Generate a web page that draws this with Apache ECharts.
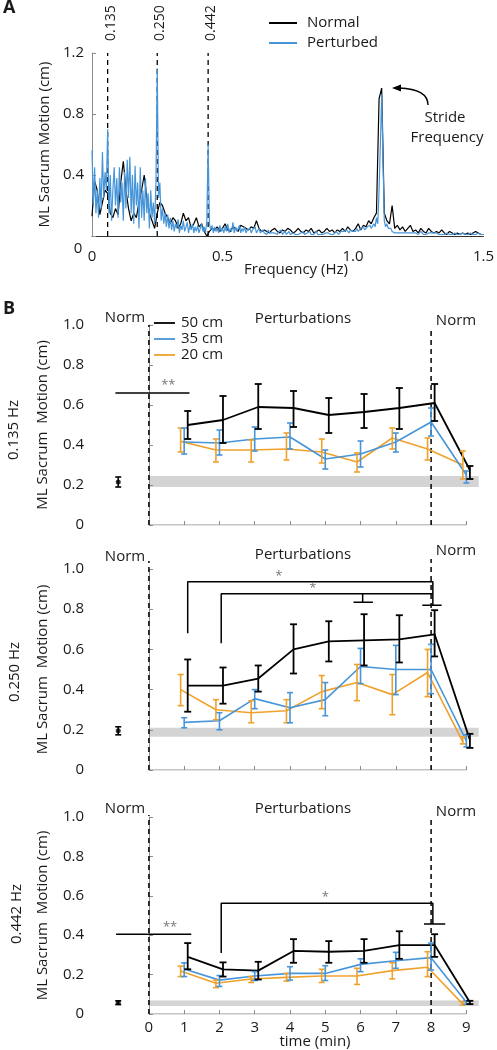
<!DOCTYPE html>
<html><head><meta charset="utf-8">
<script src="https://cdn.jsdelivr.net/npm/echarts@6/dist/echarts.min.js"></script>
<style>html,body{margin:0;padding:0;background:#fff}#c{width:497px;height:1050px}</style>
</head><body><div id="c"></div><script>
// ---------- Panel A data ----------
const normalStepA = 0.01;     // Hz between Normal samples
const perturbedStepA = 0.005; // Hz between Perturbed samples
const normalA = [
0.13,0.36,0.30,0.14,0.22,0.30,0.28,0.15,0.12,0.18,
0.14,0.35,0.49,0.30,0.18,0.10,0.15,0.12,0.22,0.30,
0.40,0.25,0.15,0.10,0.05,0.15,0.22,0.20,0.15,0.12,
0.08,0.12,0.10,0.05,0.08,0.15,0.10,0.12,0.05,0.08,
0.12,0.06,0.08,0.03,0.00,0.03,0.05,0.04,0.06,0.03,
0.05,0.08,0.04,0.03,0.06,0.05,0.03,0.07,0.06,0.05,
0.04,0.06,0.05,0.10,0.05,0.03,0.04,0.03,0.02,0.04,
0.05,0.03,0.02,0.04,0.03,0.05,0.04,0.02,0.03,0.05,
0.03,0.02,0.04,0.03,0.05,0.02,0.03,0.04,0.02,0.03,
0.05,0.03,0.04,0.02,0.04,0.03,0.05,0.03,0.06,0.04,
0.03,0.05,0.08,0.04,0.07,0.06,0.10,0.08,0.12,0.15,
0.90,0.97,0.15,0.10,0.08,0.20,0.05,0.07,0.04,0.06,
0.03,0.05,0.07,0.03,0.04,0.02,0.05,0.03,0.02,0.05,
0.03,0.02,0.03,0.02,0.04,0.02,0.01,0.03,0.02,0.01,
0.02,0.01,0.02,0.01,0.02,0.01,0.02,0.03,0.02,0.01,0.01];
const perturbedA = [
0.56,0.20,0.45,0.15,0.30,0.12,0.38,0.18,0.55,0.25,0.42,0.30,0.70,0.15,0.40,0.10,0.30,0.45,0.20,0.38,
0.12,0.45,0.22,0.35,0.10,0.42,0.18,0.50,0.25,0.52,0.15,0.40,0.08,0.46,0.20,0.35,0.05,0.45,0.12,0.30,
0.10,0.38,0.15,0.28,0.05,0.30,0.12,0.22,0.08,0.35,1.10,0.25,0.35,0.10,0.18,0.08,0.15,0.06,0.14,0.05,
0.12,0.04,0.10,0.03,0.08,0.05,0.11,0.02,0.07,0.04,0.10,0.03,0.06,0.09,0.02,0.07,0.04,0.08,0.02,0.06,
0.03,0.07,0.02,0.05,0.08,0.03,0.06,0.02,0.10,0.60,0.08,0.04,0.07,0.02,0.06,0.03,0.05,0.02,0.07,0.03,
0.05,0.02,0.06,0.03,0.08,0.02,0.05,0.03,0.09,0.02,0.06,0.03,0.04,0.07,0.02,0.05,0.03,0.06,0.02,0.04,
0.03,0.05,0.02,0.04,0.03,0.06,0.02,0.03,0.05,0.02,0.03,0.04,0.02,0.03,0.01,0.04,0.02,0.03,0.02,0.03,
0.02,0.03,0.01,0.03,0.02,0.04,0.01,0.02,0.03,0.01,0.02,0.03,0.01,0.02,0.02,0.03,0.01,0.02,0.01,0.02,
0.02,0.01,0.03,0.01,0.02,0.02,0.01,0.03,0.01,0.02,0.01,0.02,0.03,0.01,0.02,0.01,0.02,0.01,0.02,0.02,
0.01,0.02,0.03,0.01,0.02,0.01,0.02,0.03,0.02,0.01,0.02,0.03,0.02,0.03,0.02,0.04,0.03,0.02,0.04,0.03,
0.03,0.04,0.03,0.05,0.03,0.04,0.05,0.04,0.06,0.04,0.05,0.06,0.05,0.07,0.05,0.06,0.08,0.06,0.12,0.08,
0.30,0.60,0.93,0.50,0.10,0.06,0.08,0.05,0.04,0.05,0.03,0.04,0.02,0.03,0.02,0.03,0.02,0.03,0.02,0.02,
0.02,0.03,0.02,0.01,0.02,0.03,0.02,0.01,0.02,0.02,0.01,0.02,0.03,0.02,0.01,0.02,0.01,0.02,0.02,0.01,
0.02,0.01,0.02,0.01,0.02,0.01,0.01,0.02,0.01,0.02,0.01,0.01,0.02,0.01,0.01,0.02,0.01,0.01,0.02,0.01,
0.01,0.02,0.01,0.01,0.02,0.01,0.01,0.02,0.01,0.01,0.02,0.01,0.01,0.02,0.01,0.01,0.02,0.01,0.01,0.02,0.01];
const dashFreqA = [0.06, 0.25, 0.445];
const dashLabelsA = ['0.135', '0.250', '0.442'];
const legendA = ['Normal', 'Perturbed'];

// ---------- Panel B data ----------
const times = [1,2,3,4,5,6,7,8,9];
const xTicksB = [0,1,2,3,4,5,6,7,8,9];
const legendB = ['50 cm','35 cm','20 cm'];
const hzLabels = ['0.135 Hz','0.250 Hz','0.442 Hz'];
const normTime = -0.87;

// 0.135 Hz
const b1_50 = [0.50,0.525,0.59,0.585,0.55,0.565,0.585,0.61,0.275];
const b1_50lo = [0.43,0.41,0.48,0.49,0.46,0.485,0.48,0.52,0.23];
const b1_50hi = [0.57,0.645,0.705,0.67,0.635,0.655,0.685,0.705,0.295];
const b1_35 = [0.415,0.41,0.43,0.44,0.33,0.355,0.415,0.515,0.25];
const b1_35lo = [0.355,0.35,0.37,0.38,0.28,0.29,0.365,0.445,0.21];
const b1_35hi = [0.485,0.475,0.49,0.51,0.375,0.42,0.46,0.585,0.27];
const b1_20 = [0.418,0.375,0.375,0.38,0.365,0.315,0.435,0.38,0.30];
const b1_20lo = [0.365,0.315,0.315,0.325,0.31,0.265,0.38,0.325,0.23];
const b1_20hi = [0.485,0.43,0.425,0.46,0.43,0.36,0.485,0.435,0.37];
const b1Norm = [0.215,0.19,0.24];
const b1Band = [0.19,0.245];

// 0.250 Hz
const b2_50 = [0.42,0.42,0.455,0.60,0.64,0.645,0.65,0.675,0.15];
const b2_50lo = [0.29,0.33,0.39,0.48,0.54,0.52,0.535,0.565,0.11];
const b2_50hi = [0.55,0.51,0.52,0.725,0.74,0.775,0.77,0.795,0.18];
const b2_35 = [0.237,0.245,0.355,0.31,0.35,0.515,0.50,0.50,0.145];
const b2_35lo = [0.21,0.20,0.305,0.235,0.27,0.43,0.375,0.38,0.115];
const b2_35hi = [0.26,0.285,0.40,0.385,0.435,0.605,0.62,0.625,0.175];
const b2_20 = [0.40,0.30,0.285,0.295,0.39,0.435,0.375,0.485,0.14];
const b2_20lo = [0.32,0.25,0.235,0.235,0.305,0.345,0.275,0.365,0.13];
const b2_20hi = [0.475,0.35,0.345,0.35,0.47,0.525,0.475,0.60,0.165];
const b2Norm = [0.195,0.175,0.215];
const b2Band = [0.165,0.21];

// 0.442 Hz
const b3_50 = [0.29,0.227,0.22,0.32,0.316,0.32,0.35,0.35,0.06];
const b3_50lo = [0.227,0.19,0.175,0.26,0.26,0.26,0.28,0.29,0.05];
const b3_50hi = [0.36,0.262,0.265,0.38,0.37,0.38,0.42,0.405,0.067];
const b3_35 = [0.228,0.172,0.193,0.206,0.206,0.252,0.27,0.286,0.06];
const b3_35lo = [0.19,0.14,0.17,0.172,0.17,0.215,0.232,0.223,0.05];
const b3_35hi = [0.26,0.195,0.215,0.24,0.245,0.28,0.313,0.36,0.067];
const b3_20 = [0.218,0.156,0.178,0.186,0.193,0.193,0.22,0.237,0.05];
const b3_20lo = [0.19,0.134,0.16,0.167,0.16,0.15,0.178,0.19,0.045];
const b3_20hi = [0.243,0.172,0.19,0.206,0.227,0.232,0.26,0.316,0.063];
const b3Norm = [0.057,0.048,0.067];
const b3Band = [0.04,0.068];

// significance brackets (time, value)
const b1Sig = [[[-0.95,0.66],[1.15,0.66]]];
const b2Sig = [[[1.1,0.68],[1.1,0.937],[8.05,0.937],[8.05,0.82]],[[7.75,0.82],[8.3,0.82]],
               [[2.05,0.63],[2.05,0.877],[8.05,0.877]],[[6.06,0.877],[6.06,0.835]],[[5.8,0.835],[6.35,0.835]]];
const b3Sig = [[[-0.93,0.405],[1.2,0.405]],[[2.05,0.31],[2.05,0.562],[8.05,0.562],[8.05,0.457]],[[7.8,0.457],[8.4,0.457]]];
const b1Stars = [['**',0.55,0.70]];
const b2Stars = [['*',3.68,0.965],['*',4.65,0.905]];
const b3Stars = [['**',0.6,0.44],['*',5.0,0.594]];

// ---------- styling ----------
const FONT = 'Open Sans';
const TXT = '#1a1a1a';
const BLUE = '#4795d9';
const ORANGE = '#f0a12c';
const BLACK = '#000';
const AXISGRAY = '#8a8a8a';
const offsets = {black:0.1, blue:0, orange:-0.1};

const chart = echarts.init(document.getElementById('c'), null, {renderer:'canvas'});

const grids = [
  {left:92, top:53, width:398, height:183},
  {left:96, top:325, width:388, height:200},
  {left:96, top:569, width:388, height:201},
  {left:96, top:817, width:388, height:197}
];

const xAxes = [{
  gridIndex:0, type:'value', min:0, max:1.5, interval:0.5,
  axisLine:{show:true, lineStyle:{color:'#333', width:1}}, axisTick:{show:false}, splitLine:{show:false},
  axisLabel:{margin:13, fontFamily:FONT, fontSize:15, color:TXT, formatter:v=> v===0?'0':v.toFixed(1)}
}];
const yAxes = [{
  gridIndex:0, type:'value', min:0, max:1.2, interval:0.4,
  axisLine:{show:true, lineStyle:{color:AXISGRAY, width:1}}, axisTick:{show:true, inside:true, length:4, lineStyle:{color:AXISGRAY}},
  splitLine:{show:false},
  axisLabel:{margin:8, fontFamily:FONT, fontSize:15, color:TXT, formatter:v=> v===0?'':v.toFixed(1)},
  name:'ML Sacrum Motion (cm)', nameLocation:'middle', nameGap:37, nameRotate:90,
  nameTextStyle:{fontFamily:FONT, fontSize:15, color:TXT}
}];
for (let i=1;i<=3;i++){
  xAxes.push({
    gridIndex:i, type:'value', min:-1.5, max:9.5,
    axisLine:{show:false}, splitLine:{show:false},
    axisTick:{show:true, inside:true, length:4, customValues:xTicksB, lineStyle:{color:AXISGRAY}},
    axisLabel:{show:i===3, customValues:xTicksB, margin:6, fontFamily:FONT, fontSize:15, color:TXT}
  });
  yAxes.push({
    gridIndex:i, type:'value', min:0, max:1, interval:0.2,
    axisLine:{show:true, lineStyle:{color:AXISGRAY, width:1}},
    axisTick:{show:true, inside:true, length:4, lineStyle:{color:AXISGRAY}},
    splitLine:{show:false},
    axisLabel:{margin:12, fontFamily:FONT, fontSize:15, color:TXT, formatter:v=> v===0?'0':v.toFixed(1)},
    name:'ML Sacrum  Motion (cm)', nameLocation:'middle', nameGap:46, nameRotate:90,
    nameTextStyle:{fontFamily:FONT, fontSize:15, color:TXT}
  });
}

const series = [];
// Panel A
dashFreqA.forEach(f => series.push({type:'line', xAxisIndex:0, yAxisIndex:0, data:[[f,0],[f,1.2]],
  symbol:'none', silent:true, clip:false, lineStyle:{color:BLACK, width:1.3, type:[5,4]}, z:1}));
series.push({name:legendA[0], type:'line', xAxisIndex:0, yAxisIndex:0,
  data: normalA.map((v,i)=>[+(i*normalStepA).toFixed(3), v]), symbol:'none', silent:true,
  lineStyle:{color:BLACK, width:1.2}, z:2});
series.push({name:legendA[1], type:'line', xAxisIndex:0, yAxisIndex:0,
  data: perturbedA.map((v,i)=>[+(i*perturbedStepA).toFixed(3), v]), symbol:'none', silent:true,
  lineStyle:{color:BLUE, width:1.2}, z:3});

function errRender(capHalf, color, lw){
  return function(params, api){
    const x = api.value(0), lo = api.value(2), hi = api.value(3);
    const a = api.coord([x, lo]), b = api.coord([x, hi]);
    const st = {stroke:color, lineWidth:lw};
    return {type:'group', children:[
      {type:'line', shape:{x1:a[0],y1:a[1],x2:b[0],y2:b[1]}, style:st},
      {type:'line', shape:{x1:a[0]-capHalf,y1:a[1],x2:a[0]+capHalf,y2:a[1]}, style:st},
      {type:'line', shape:{x1:b[0]-capHalf,y1:b[1],x2:b[0]+capHalf,y2:b[1]}, style:st}
    ]};
  };
}
function bandRender(params, api){
  const p0 = api.coord([api.value(0), api.value(3)]);
  const p1 = api.coord([api.value(1), api.value(2)]);
  return {type:'rect', shape:{x:p0[0], y:p0[1], width:p1[0]-p0[0], height:p1[1]-p0[1]}, style:{fill:'#d4d4d4'}};
}

const panels = [
  {g:1, s50:[b1_50,b1_50lo,b1_50hi], s35:[b1_35,b1_35lo,b1_35hi], s20:[b1_20,b1_20lo,b1_20hi], norm:b1Norm, band:b1Band, sig:b1Sig, stars:b1Stars, dashTop:[1.0,0.985]},
  {g:2, s50:[b2_50,b2_50lo,b2_50hi], s35:[b2_35,b2_35lo,b2_35hi], s20:[b2_20,b2_20lo,b2_20hi], norm:b2Norm, band:b2Band, sig:b2Sig, stars:b2Stars, dashTop:[1.04,1.05]},
  {g:3, s50:[b3_50,b3_50lo,b3_50hi], s35:[b3_35,b3_35lo,b3_35hi], s20:[b3_20,b3_20lo,b3_20hi], norm:b3Norm, band:b3Band, sig:b3Sig, stars:b3Stars, dashTop:[1.01,1.0]}
];

panels.forEach(p => {
  const ax = {xAxisIndex:p.g, yAxisIndex:p.g};
  series.push(Object.assign({type:'custom', renderItem:bandRender, silent:true, clip:false,
    data:[[0, 9.35, p.band[0], p.band[1]]], encode:{x:[0,1], y:[2,3]}, z:0}, ax));
  series.push(Object.assign({type:'line', data:[[xTicksB[0],0],[xTicksB[xTicksB.length-1],0]], symbol:'none', silent:true,
    lineStyle:{color:AXISGRAY, width:1}, z:1}, ax));
  [[0,p.dashTop[0]],[8,p.dashTop[1]]].forEach(d => series.push(Object.assign({type:'line', data:[[d[0],0],[d[0],d[1]]],
    symbol:'none', silent:true, clip:false, lineStyle:{color:BLACK, width:1.5, type:[5,4]}, z:2}, ax)));
  const defs = [[p.s20, ORANGE, offsets.orange, 3, 1.6], [p.s35, BLUE, offsets.blue, 3, 1.6], [p.s50, BLACK, offsets.black, 3.5, 1.8]];
  defs.forEach(([s, color, off, cap, lw]) => {
    series.push(Object.assign({type:'line', data: times.map((t,i)=>[t+off, s[0][i]]), symbol:'none', silent:true,
      clip:false, lineStyle:{color, width:lw}, z:4}, ax));
    series.push(Object.assign({type:'custom', renderItem:errRender(cap, color, lw), silent:true, clip:false,
      data: times.map((t,i)=>[t+off, s[0][i], s[1][i], s[2][i]]), encode:{x:0, y:[1,2,3]}, z:5}, ax));
  });
  series.push(Object.assign({type:'custom', renderItem:errRender(3, BLACK, 1.6), silent:true, clip:false,
    data:[[normTime, p.norm[0], p.norm[1], p.norm[2]]], encode:{x:0, y:[1,2,3]}, z:5}, ax));
  series.push(Object.assign({type:'scatter', data:[[normTime, p.norm[0]]], symbol:'circle', symbolSize:5,
    itemStyle:{color:BLACK}, silent:true, z:6}, ax));
  p.sig.forEach(line => series.push(Object.assign({type:'line', data:line, symbol:'none', silent:true, clip:false,
    lineStyle:{color:BLACK, width:1.5}, z:3}, ax)));
});

chart.setOption({
  animation:false,
  backgroundColor:'#fff',
  textStyle:{fontFamily:FONT},
  grid:grids, xAxis:xAxes, yAxis:yAxes, series
});

// ---------- annotations ----------
const T = (text, x, y, opt={}) => ({type:'text', x, y, rotation:opt.rot||0, silent:true, z:50,
  style:{text, fill:opt.fill||TXT, font:(opt.bold?'bold ':'')+(opt.size||15)+'px "'+FONT+'"',
  textAlign:opt.align||'center', textVerticalAlign:opt.valign||'middle'}});
const L = (x1,y1,x2,y2,color,w) => ({type:'line', silent:true, z:50, shape:{x1,y1,x2,y2}, style:{stroke:color, lineWidth:w||1.6}});

const g = [];
g.push(T('A', 3, 8, {bold:true, size:18, align:'left'}));
g.push(T('B', 3, 309, {bold:true, size:18, align:'left'}));
dashFreqA.forEach((f,i) => {
  const px = chart.convertToPixel({xAxisIndex:0, yAxisIndex:0}, [f, 1.2]);
  g.push(T(dashLabelsA[i], px[0]+3, px[1]-12, {rot:Math.PI/2, align:'left', size:14}));
});
g.push(T('0', 78, 249));
g.push(T('Frequency (Hz)', 296, 270));
g.push(L(269, 23, 297, 23, BLACK, 2));
g.push(L(269, 43, 297, 43, BLUE, 2));
g.push(T(legendA[0], 307, 23, {align:'left'}));
g.push(T(legendA[1], 307, 43, {align:'left'}));
g.push(T('Stride', 445, 118));
g.push(T('Frequency', 447, 138));
g.push({type:'bezierCurve', silent:true, z:50, shape:{x1:428, y1:105, x2:399, y2:88, cpx1:428, cpy1:89},
  style:{stroke:BLACK, lineWidth:1.4, fill:null}});
g.push({type:'polygon', silent:true, z:50, shape:{points:[[392,88],[401,84.5],[401,91.5]]}, style:{fill:BLACK}});

const headY = [[318,319,321],[557,555,551],[809,809,812]];
const hzPos = [[14,430],[15,672],[17,914]];
panels.forEach((p, k) => {
  g.push(T('Norm', 125, headY[k][0]));
  g.push(T('Perturbations', 303, headY[k][1]));
  g.push(T('Norm', 456, headY[k][2]));
  g.push(T(hzLabels[k], hzPos[k][0], hzPos[k][1], {rot:Math.PI/2}));
  p.stars.forEach(s => {
    const px = chart.convertToPixel({xAxisIndex:p.g, yAxisIndex:p.g}, [s[1], s[2]]);
    g.push(T(s[0], px[0], px[1], {fill:'#777', size:13}));
  });
});
[[BLACK,323],[BLUE,339],[ORANGE,355]].forEach((d,i) => {
  g.push(L(154, d[1], 175, d[1], d[0], 1.8));
  g.push(T(legendB[i], 181, d[1], {align:'left'}));
});
g.push(T('time (min)', 315, 1042));

chart.setOption({graphic:g});
</script></body></html>
